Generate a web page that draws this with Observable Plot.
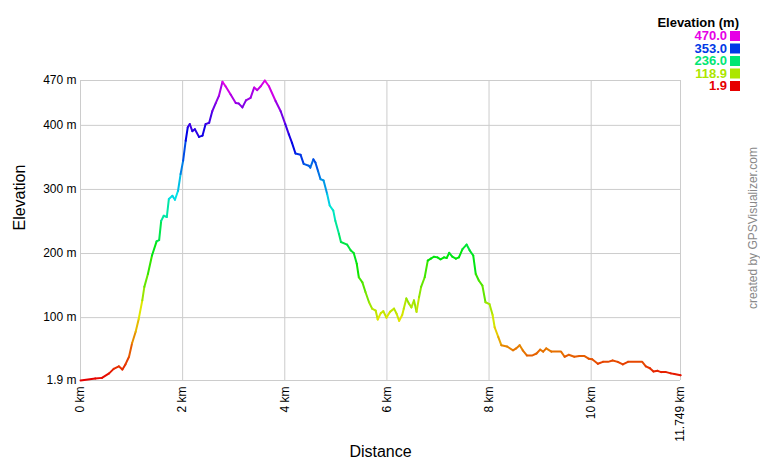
<!DOCTYPE html>
<html><head><meta charset="utf-8">
<script src="https://cdn.jsdelivr.net/npm/d3@7"></script>
<script src="https://cdn.jsdelivr.net/npm/@observablehq/plot@0.6"></script>
<style>body{margin:0;background:#fff;font-family:"Liberation Sans",Arial,sans-serif}</style>
</head><body><div id="chart"></div>
<script>
const distanceKm = [
 0,0.29,0.42,0.56,0.65,0.75,0.82,0.88,0.95,1.01,1.08,1.14,1.21,1.25,1.32,1.40,1.49,1.54,1.58,1.63,
 1.69,1.73,1.80,1.85,1.91,1.96,2.01,2.06,2.10,2.14,2.19,2.24,2.32,2.39,2.45,2.52,2.58,2.65,2.71,2.78,
 2.84,2.94,3.04,3.10,3.17,3.24,3.33,3.40,3.46,3.53,3.61,3.69,
 3.82,3.92,4.01,4.08,4.14,4.21,4.31,4.37,4.47,4.50,4.56,4.60,4.65,4.70,4.76,4.83,4.88,4.95,4.99,5.06,
 5.10,5.22,5.29,5.35,5.41,5.45,5.52,5.58,5.65,5.71,5.78,5.82,5.88,5.93,5.99,6.06,6.14,6.19,6.24,6.30,
 6.33,6.38,6.43,6.48,6.53,6.58,6.63,6.67,6.74,6.80,6.86,6.92,6.99,7.05,7.12,7.17,7.22,7.28,7.35,7.41,
 7.48,7.56,
 7.62,7.69,7.74,7.80,7.87,7.93,8.01,8.07,8.11,8.18,8.24,8.35,8.47,8.53,8.60,8.66,8.74,8.85,8.93,9.00,
 9.06,9.12,9.22,9.32,9.41,9.48,9.56,9.67,9.77,9.87,9.95,10.02,10.13,10.23,10.33,10.42,10.52,10.62,10.72,10.81,
 10.91,11.00,11.07,11.15,11.22,11.30,11.37,11.47,11.56,11.63,11.749
];
const elevationM = [
 2,5,6,13,20,24,19,27,39,60,78,98,127,148,168,197,219,221,251,259,
 257,285,290,284,298,324,345,376,397,402,391,394,382,384,402,404,422,435,446,468,
 461,448,435,434,428,439,443,459,455,461,470,461,
 438,422,402,386,373,356,354,340,337,334,347,342,329,316,314,293,275,267,251,231,
 218,214,205,201,184,163,155,140,124,114,111,97,107,110,100,109,114,106,95,104,
 114,130,122,116,127,109,132,148,163,189,192,195,194,191,194,193,201,195,192,194,
 207,214,
 205,197,168,158,150,124,121,104,85,70,57,55,49,52,57,49,41,41,44,50,
 47,52,47,47,47,39,42,39,40,40,36,35,28,31,31,33,31,27,31,31,
 31,31,24,21,16,17,15,15,13,12,10
];
const xTicks = [0,2,4,6,8,10,11.749];
const yTicks = [1.9,100,200,300,400,470];
const legendValues = [470.0,353.0,236.0,118.9,1.9];
const legendLabels = ["470.0","353.0","236.0","118.9","1.9"];

const data = distanceKm.map((d,i)=>({d, e: elevationM[i]}));
const font = '"Liberation Sans", Arial, sans-serif';

const chart = Plot.plot({
  width:760, height:460,
  marginLeft:80, marginRight:80, marginTop:80, marginBottom:80,
  style:{fontFamily:font, fontSize:"12px", color:"#000", background:"#fff"},
  x:{domain:[0,11.749]},
  y:{domain:[1.9,470]},
  color:{type:"linear", domain:[1.9,470], interpolate: t => d3.hsl(300*t,1,0.45).formatHex()},
  marks:[
    Plot.gridX(xTicks,{stroke:"#ccc", strokeOpacity:1}),
    Plot.gridY(yTicks,{stroke:"#ccc", strokeOpacity:1}),
    Plot.axisX(xTicks,{tickFormat:d=>`${d} km`, tickRotate:-90, tickSize:0, tickPadding:6, label:null, fontSize:12}),
    Plot.axisY(yTicks,{tickFormat:d=>`${d} m`, tickSize:0, tickPadding:4, label:null, fontSize:12}),
    Plot.line(data,{x:"d", y:"e", z:null, stroke:"e", strokeWidth:2}),
    Plot.text(["Distance"],{frameAnchor:"bottom", dy:76, fontSize:16}),
    Plot.text(["Elevation"],{frameAnchor:"left", dx:-61, rotate:-90, fontSize:16})
  ]
});

const svg = d3.select(chart);
const color = chart.scale("color");
svg.append("text").attr("x",739).attr("y",27).attr("text-anchor","end")
  .attr("font-family",font).attr("font-size",13).attr("font-weight","bold").attr("fill","#000")
  .text("Elevation (m)");
legendValues.forEach((v,i)=>{
  const c = color.apply(v);
  svg.append("text").attr("x",727).attr("y",40+i*12.5).attr("text-anchor","end")
    .attr("font-family",font).attr("font-size",13).attr("font-weight","bold").attr("fill",c)
    .text(legendLabels[i]);
  svg.append("rect").attr("x",730).attr("y",31+i*12.5).attr("width",10).attr("height",10).attr("fill",c);
});
svg.append("text").attr("transform","translate(757,228) rotate(-90)").attr("text-anchor","middle")
  .attr("font-family",font).attr("font-size",12).attr("fill","#888")
  .text("created by GPSVisualizer.com");

document.getElementById("chart").appendChild(chart);
</script>
</body></html>
